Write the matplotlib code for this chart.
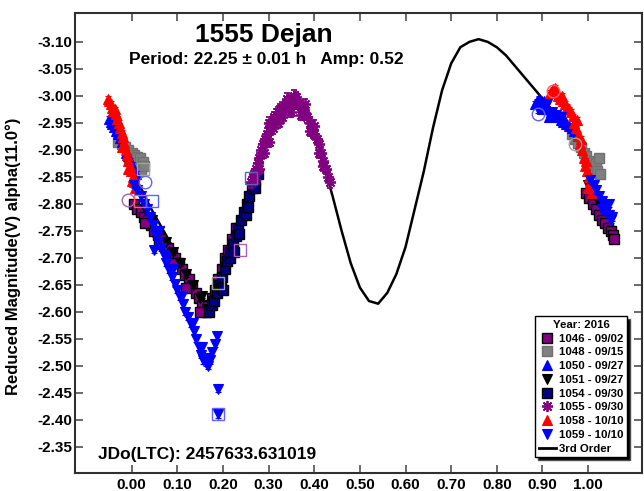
import numpy as np
import matplotlib.pyplot as plt
from matplotlib.lines import Line2D

plt.rcParams['font.family'] = ['Liberation Sans', 'DejaVu Sans']
plt.rcParams['font.weight'] = 'bold'

# 3rd order fit, every 0.02 in phase
fit_phase = np.round(np.arange(0, 1.001, 0.02), 2)
fit_mag = [-2.86, -2.83, -2.795, -2.765, -2.735, -2.705, -2.672, -2.64, -2.612, -2.615,
           -2.655, -2.71, -2.765, -2.82, -2.875, -2.92, -2.955, -2.975, -2.978, -2.965,
           -2.93, -2.875, -2.815, -2.75, -2.69, -2.645, -2.62, -2.615, -2.635, -2.67,
           -2.72, -2.79, -2.86, -2.94, -3.01, -3.06, -3.09, -3.10, -3.105, -3.10,
           -3.09, -3.075, -3.055, -3.035, -3.015, -2.995, -2.975, -2.955, -2.935, -2.9,
           -2.86]

labels = ["1046 - 09/02", "1048 - 09/15", "1050 - 09/27", "1051 - 09/27",
          "1054 - 09/30", "1055 - 09/30", "1058 - 10/10", "1059 - 10/10"]
errs = [0.005, 0.005, 0.005, 0.005, 0.005, 0.010, 0.005, 0.006]

ph_1046 = [0.005, 0.012, 0.02, 0.028, 0.035, 0.042, 0.05, 0.058, 0.065, 0.072,
           0.08, 0.088, 0.095, 0.103, 0.11, 0.118, 0.125, 0.132, 0.14, 0.147,
           0.155, 0.162, 0.168, 0.175, 0.182, 0.19, 0.198, 0.205, 0.212, 0.22,
           0.228, 0.03, 0.06, 0.09, 0.12, 0.15,
           0.995, 1.002, 1.01, 1.018, 1.024, 1.03, 1.036, 1.043, 1.05, 1.055, 1.057]
mag_1046 = [-2.80, -2.79, -2.785, -2.775, -2.77, -2.76, -2.75, -2.742, -2.735, -2.725,
            -2.718, -2.708, -2.70, -2.69, -2.68, -2.668, -2.66, -2.648, -2.635, -2.625,
            -2.612, -2.60, -2.61, -2.625, -2.64, -2.66, -2.68, -2.70, -2.715, -2.735,
            -2.755, -2.765, -2.725, -2.69, -2.645, -2.60,
            -2.82, -2.81, -2.80, -2.79, -2.78, -2.77, -2.765, -2.755, -2.75, -2.742, -2.735]

ph_1048 = [-0.03, -0.022, -0.015, -0.008, -0.005, 0.0, 0.006, 0.01, 0.012, 0.018,
           0.02, 0.024, 0.028,
           0.965, 0.972, 0.978, 0.985, 0.99, 0.996, 1.002, 1.008, 1.014, 1.018, 1.02,
           1.024, 1.026]
mag_1048 = [-2.915, -2.91, -2.905, -2.90, -2.885, -2.895, -2.89, -2.875, -2.887, -2.885,
            -2.86, -2.878, -2.87,
            -2.93, -2.92, -2.912, -2.905, -2.895, -2.888, -2.88, -2.872, -2.866, -2.875, -2.86,
            -2.885, -2.855]

ph_1050 = [-0.05, -0.046, -0.042, -0.038, -0.034, -0.03, -0.025, -0.02, -0.016, -0.012,
           -0.008, -0.004, 0.0, 0.005, 0.01,
           0.884, 0.888, 0.893, 0.898, 0.9, 0.903, 0.908, 0.913, 0.915, 0.918,
           0.923, 0.928, 0.934, 0.94, 0.945, 0.946, 0.952, 0.958, 0.964, 0.97, 0.976]
mag_1050 = [-2.958, -2.952, -2.948, -2.942, -2.935, -2.93, -2.922, -2.915, -2.905, -2.895,
            -2.888, -2.88, -2.872, -2.862, -2.855,
            -2.985, -2.99, -2.995, -2.985, -2.975, -2.99, -2.98, -2.975, -2.96, -2.97,
            -2.968, -2.965, -2.96, -2.955, -2.96, -2.952, -2.948, -2.945, -2.94, -2.935, -2.93]

ph_1051 = [0.03, 0.045, 0.06, 0.075, 0.09, 0.105, 0.12, 0.135, 0.15, 0.155,
           0.165, 0.175, 0.18, 0.19, 0.2, 0.21, 0.22, 1.0, 1.008, 1.015, 1.022]
mag_1051 = [-2.79, -2.77, -2.75, -2.73, -2.71, -2.69, -2.67, -2.65, -2.625, -2.63,
            -2.605, -2.62, -2.615, -2.64, -2.665, -2.69, -2.72, -2.834, -2.825, -2.815, -2.805]

ph_1054 = [0.17, 0.175, 0.18, 0.186, 0.192, 0.195, 0.198, 0.2, 0.204, 0.21,
           0.215, 0.216, 0.222, 0.225, 0.228, 0.234, 0.235, 0.24, 0.246, 0.25,
           0.252, 0.255, 0.258, 0.264, 0.27, 0.27, 0.276]
mag_1054 = [-2.60, -2.612, -2.62, -2.635, -2.65, -2.645, -2.665, -2.64, -2.68, -2.695,
            -2.70, -2.71, -2.725, -2.71, -2.74, -2.755, -2.745, -2.77, -2.785, -2.78,
            -2.80, -2.795, -2.815, -2.83, -2.845, -2.83, -2.855]

ph_1055 = [0.262, 0.268, 0.272, 0.276, 0.28, 0.284, 0.288, 0.292, 0.296, 0.3,
           0.304, 0.308, 0.312, 0.316, 0.32, 0.325, 0.33, 0.335, 0.34, 0.345,
           0.35, 0.355, 0.36, 0.365, 0.37, 0.375, 0.38, 0.385, 0.39, 0.395,
           0.4, 0.405, 0.41, 0.415, 0.42, 0.425, 0.43, 0.435,
           0.29, 0.31, 0.33, 0.35, 0.37, 0.39, 0.41, 0.3, 0.32, 0.36, 0.34,
           0.28, 0.3, 0.325, 0.345, 0.355, 0.38, 0.4, 0.42, 0.27, 0.31]
mag_1055 = [-2.84, -2.855, -2.865, -2.875, -2.885, -2.90, -2.91, -2.92, -2.93, -2.935,
            -2.945, -2.95, -2.96, -2.965, -2.97, -2.975, -2.978, -2.982, -2.985, -2.99,
            -2.992, -2.99, -2.988, -2.985, -2.982, -2.975, -2.968, -2.96, -2.95, -2.94,
            -2.93, -2.92, -2.91, -2.895, -2.88, -2.865, -2.85, -2.84,
            -2.895, -2.94, -2.96, -2.97, -2.965, -2.935, -2.895, -2.915, -2.95, -2.998, -2.995,
            -2.865, -2.95, -2.96, -2.975, -3.0, -2.985, -2.945, -2.87, -2.845, -2.955]

ph_1058 = [-0.052, -0.049, -0.046, -0.043, -0.04, -0.037, -0.034, -0.031, -0.028, -0.025,
           -0.022, -0.02, -0.019, -0.016, -0.013, -0.01, -0.008, -0.007, -0.004, -0.001,
           0.0, 0.002, 0.005, 0.008,
           0.917, 0.922, 0.927, 0.93, 0.934, 0.938, 0.942, 0.946, 0.95, 0.954,
           0.958, 0.962, 0.966, 0.97, 0.974, 0.975, 0.978, 0.982, 0.985, 0.986,
           0.99, 0.994, 0.995, 0.998, 1.0, 1.002, 1.004, 1.008]
mag_1058 = [-2.995, -2.99, -2.985, -2.978, -2.972, -2.975, -2.966, -2.958, -2.95, -2.94,
            -2.932, -2.905, -2.924, -2.912, -2.90, -2.89, -2.865, -2.88, -2.87, -2.86,
            -2.842, -2.85, -2.84, -2.83,
            -3.005, -3.012, -3.015, -3.008, -3.0, -2.995, -3.0, -2.99, -2.985, -2.98,
            -2.975, -2.97, -2.962, -2.95, -2.94, -2.955, -2.925, -2.91, -2.92, -2.90,
            -2.885, -2.87, -2.88, -2.86, -2.83, -2.85, -2.84, -2.82]

ph_1059 = [0.005, 0.012, 0.02, 0.027, 0.033, 0.04, 0.046, 0.052, 0.058, 0.064,
           0.07, 0.076, 0.082, 0.088, 0.094, 0.1, 0.106, 0.112, 0.118, 0.124,
           0.13, 0.136, 0.142, 0.147, 0.152, 0.157, 0.162, 0.167, 0.172, 0.177,
           0.182, 0.187,
           0.05, 0.06, 0.075, 0.09, 0.11, 0.135, 0.155, 0.165, 0.19, 0.19,
           0.89, 0.9, 0.91, 0.92, 0.93, 0.94,
           1.005, 1.012, 1.018, 1.024, 1.03, 1.03, 1.036, 1.04, 1.045, 1.045, 1.05, 1.053]
mag_1059 = [-2.835, -2.825, -2.815, -2.80, -2.79, -2.775, -2.76, -2.745, -2.73, -2.718,
            -2.705, -2.69, -2.678, -2.665, -2.652, -2.64, -2.628, -2.615, -2.60, -2.59,
            -2.578, -2.565, -2.55, -2.535, -2.52, -2.51, -2.505, -2.50, -2.51, -2.525,
            -2.54, -2.555,
            -2.715, -2.75, -2.70, -2.68, -2.63, -2.58, -2.535, -2.515, -2.457, -2.41,
            -2.975, -2.98, -2.985, -2.97, -2.965, -2.96,
            -2.845, -2.835, -2.825, -2.815, -2.805, -2.79, -2.795, -2.785, -2.78, -2.80, -2.77, -2.775]

# open (flagged) markers
open_ph = [0.924, 0.891, 0.972, -0.008, 0.029, 0.018, 0.025, 0.044, 0.19, 0.237, 0.262, 0.19]
open_mag = [-3.009, -2.966, -2.911, -2.807, -2.841, -2.805, -2.865, -2.805, -2.654, -2.714, -2.848, -2.41]
open_shape = ['o', 'o', 'o', 'o', 'o', 's', 's', 's', 's', 's', 's', 's']
open_col = ['#ff6060', '#6060ff', '#a0a0a0', '#b060b0', '#6060ff', '#ff6060',
            '#a0a0a0', '#6060ff', '#a0a0a0', '#b060b0', '#6060c0', '#6060ff']

phs = [ph_1046, ph_1048, ph_1050, ph_1051, ph_1054, ph_1055, ph_1058, ph_1059]
mags = [mag_1046, mag_1048, mag_1050, mag_1051, mag_1054, mag_1055, mag_1058, mag_1059]
styles = [
    dict(marker='s', mfc='#800080', mec='black', color='#800080', ms=6.5, mew=1),
    dict(marker='s', mfc='#808080', mec='#707070', color='#808080', ms=6.5, mew=1),
    dict(marker='^', mfc='#0000ff', mec='#0000ff', color='#0000ff', ms=6.5, mew=0.8),
    dict(marker='v', mfc='black', mec='black', color='black', ms=6.5, mew=0.8),
    dict(marker='s', mfc='#000080', mec='black', color='#000080', ms=6.5, mew=1),
    dict(marker=(8, 2, 0), mfc='#800080', mec='#800080', color='#800080', ms=8, mew=1.3),
    dict(marker='^', mfc='#ff0000', mec='#ff0000', color='#ff0000', ms=6.5, mew=0.8),
    dict(marker='v', mfc='#0000ff', mec='#0000ff', color='#0000ff', ms=6.5, mew=0.8),
]

fig = plt.figure(figsize=(6.44, 4.91), dpi=100)
ax = fig.add_axes([75 / 644, 18.3 / 491, 567 / 644, 460 / 491])

ax.plot(fit_phase, fit_mag, color='black', lw=1.8, zorder=2)

handles = []
for i in range(len(phs)):
    st = styles[i]
    cont = ax.errorbar(phs[i], mags[i], yerr=errs[i], ls='none', elinewidth=0.8,
                       capsize=2, capthick=0.8, zorder=3 + i, **st)
    handles.append(cont[0])

for i in range(len(open_ph)):
    ax.plot(open_ph[i], open_mag[i], marker=open_shape[i], ms=9, mfc='none',
            mec=open_col[i], mew=1, ls='none', zorder=20)

fit_handle = Line2D([], [], color='black', lw=2)

ax.set_xlim(-0.124, 1.118)
ax.set_ylim(-2.302, -3.154)
xt = np.round(np.arange(0, 1.001, 0.1), 2)
ax.set_xticks(xt)
ax.set_xticklabels(['%.2f' % v for v in xt])
yt = np.round(np.arange(-3.10, -2.349, 0.05), 2)
ax.set_yticks(yt)
ax.set_yticklabels(['%.2f' % v for v in yt])
ax.tick_params(direction='in', length=6, width=1.2, color='#505050',
               top=True, right=True, labelsize=11)
ax.tick_params(axis='y', pad=2)
ax.tick_params(axis='x', pad=4)
for sp in ax.spines.values():
    sp.set_linewidth(1.5)
    sp.set_color('#303030')

ax.set_ylabel('Reduced Magnitude(V) alpha(11.0°)', fontsize=12, fontweight='bold')
ax.yaxis.set_label_coords(-0.095, 0.47)

fig.text(0.41, 1 - 35 / 491, '1555 Dejan', ha='center', va='center',
         fontsize=19, fontweight='bold')
fig.text(0.413, 1 - 60 / 491, 'Period: 22.25 \u00b1 0.01 h   Amp: 0.52', ha='center',
         va='center', fontsize=12.5, fontweight='bold')
fig.text(98 / 644, 1 - 455 / 491, 'JDo(LTC): 2457633.631019', ha='left', va='center',
         fontsize=12.5, fontweight='bold')

leg = ax.legend(handles + [fit_handle], labels + ['3rd Order'], title='Year: 2016',
                loc='lower right', bbox_to_anchor=(0.974, 0.034), borderaxespad=0,
                prop={'weight': 'bold', 'size': 8.2},
                title_fontproperties={'weight': 'bold', 'size': 8.2},
                frameon=True, fancybox=False, edgecolor='black', framealpha=1,
                shadow={'fc': 'black', 'alpha': 1}, handlelength=1.5,
                handletextpad=0.3, labelspacing=0.33, borderpad=0.3, numpoints=1)
leg.get_frame().set_linewidth(1)
leg.set_zorder(30)

fig.savefig('out.png', dpi=100)
